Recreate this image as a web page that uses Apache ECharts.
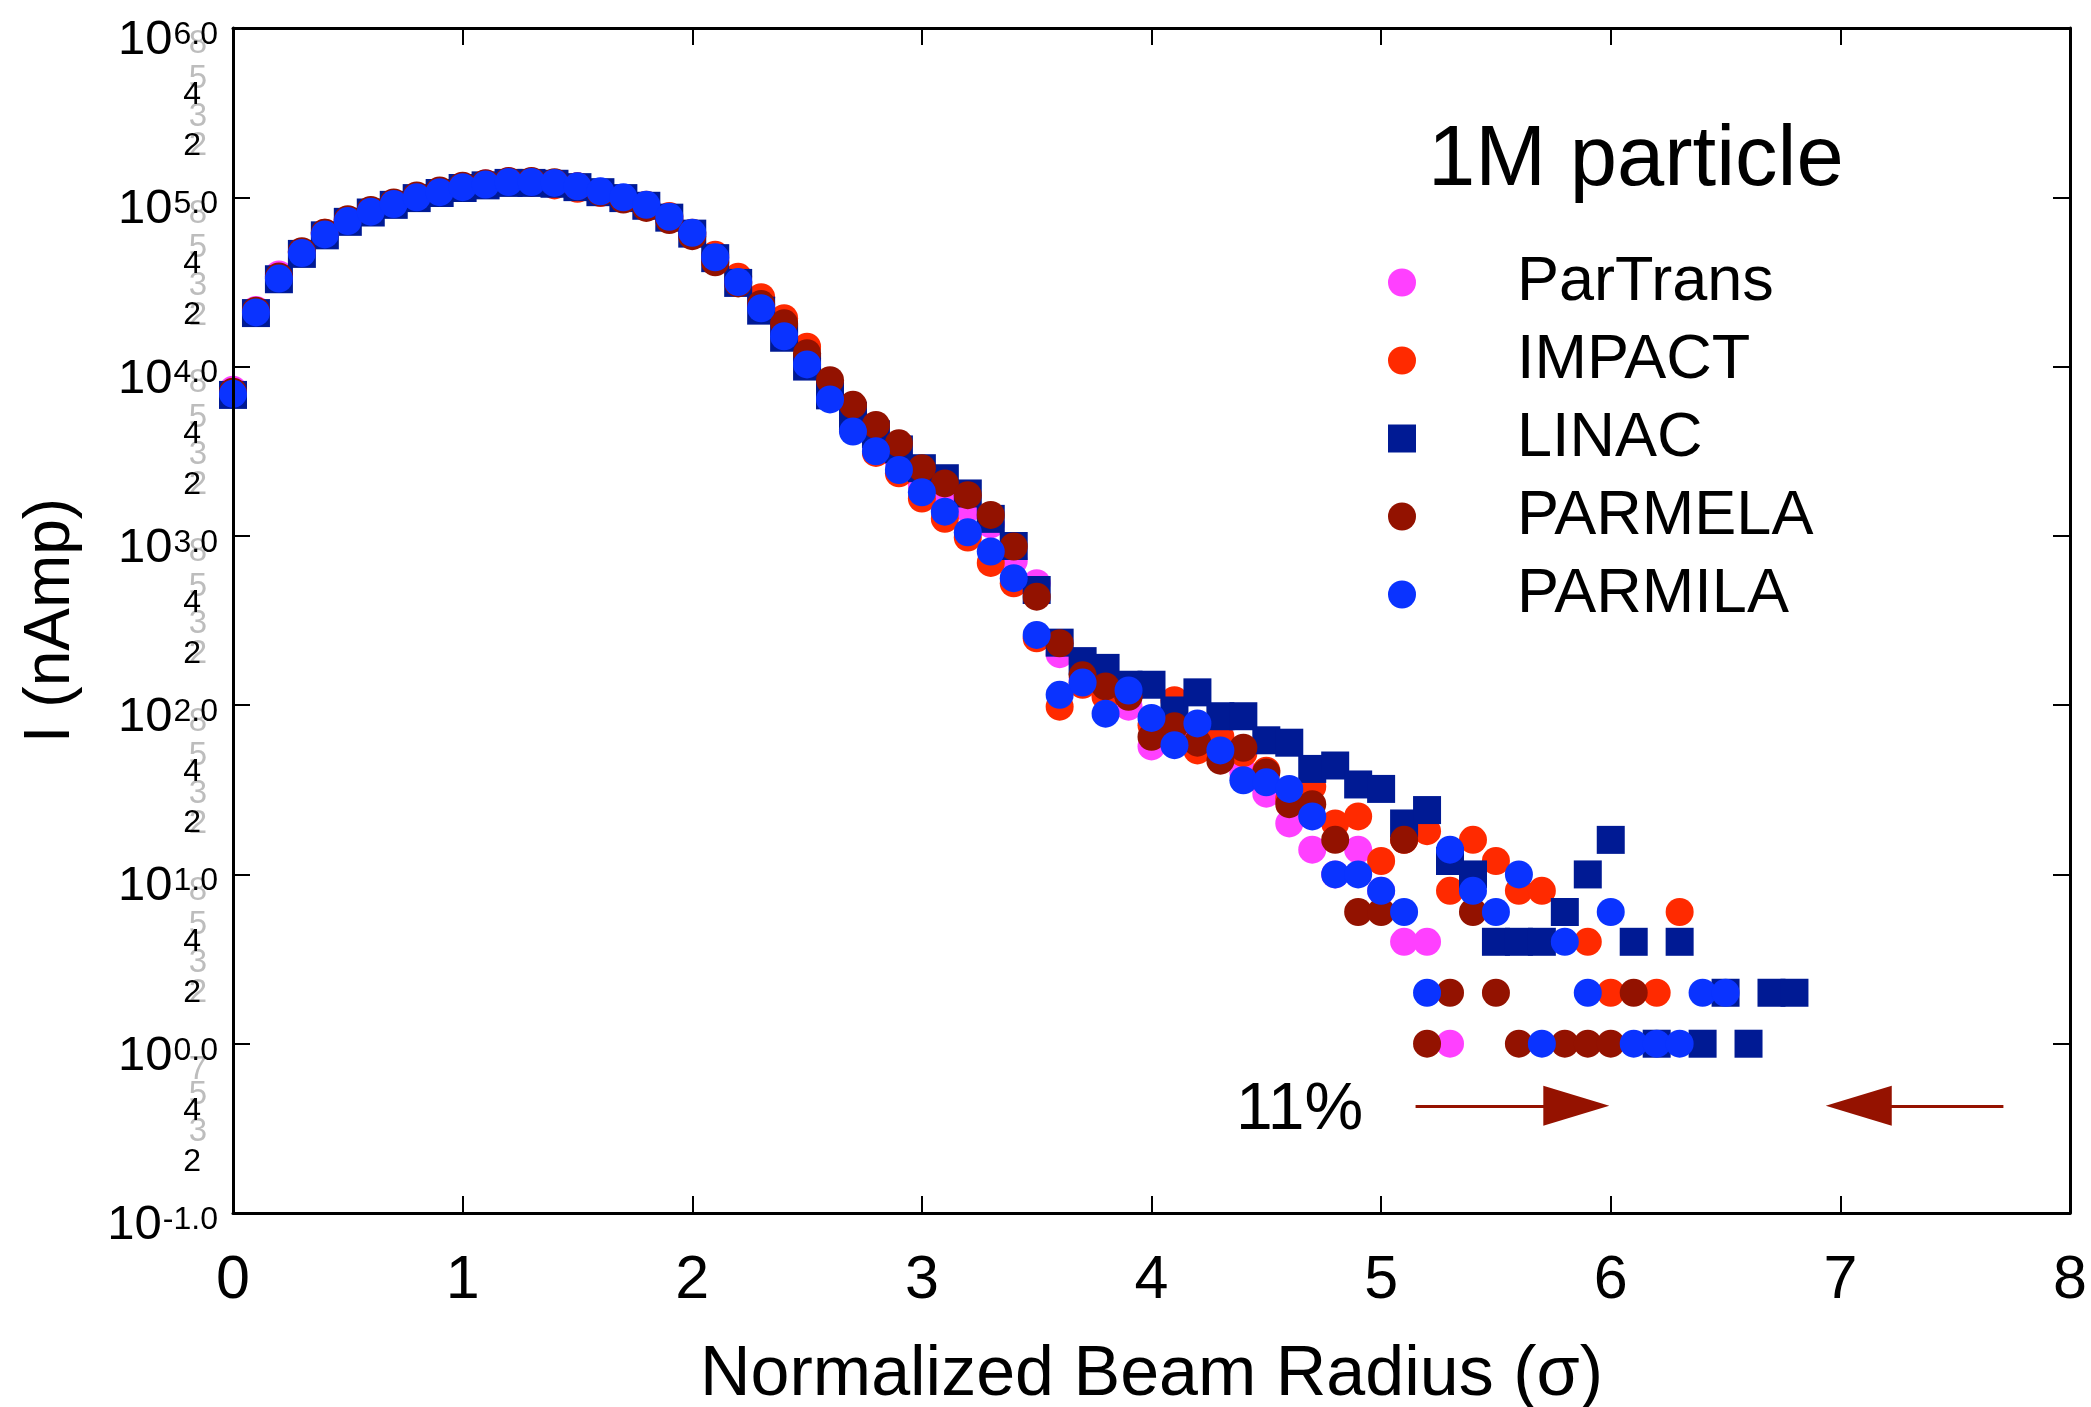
<!DOCTYPE html>
<html><head><meta charset="utf-8">
<script src="https://cdn.jsdelivr.net/npm/echarts@6/dist/echarts.min.js"></script>
<style>html,body{margin:0;padding:0;background:#fff}#c{width:2091px;height:1407px}</style>
</head><body><div id="c"></div>
<script>
const radius = [0.0,0.1,0.2,0.3,0.4,0.5,0.6,0.7,0.8,0.9,1.0,1.1,1.2,1.3,1.4,1.5,1.6,1.7,1.8,1.9,2.0,2.1,2.2,2.3,2.4,2.5,2.6,2.7,2.8,2.9,3.0,3.1,3.2,3.3,3.4,3.5,3.6,3.7,3.8,3.9,4.0,4.1,4.2,4.3,4.4,4.5,4.6,4.7,4.8,4.9,5.0,5.1,5.2,5.3,5.4,5.5,5.6,5.7,5.8,5.9,6.0,6.1,6.2,6.3,6.4,6.5,6.6,6.7,6.8];

const parTrans = [7300,21600,35000,47500,61000,73000,83000,92500,101500,109000,116500,120500,124500,124000,121500,116000,108000,99000,88500,75000,60500,43500,31500,22800,16000,11200,7080,4790,3550,2750,2000,1620,1450,1170,710,525,200,141,115,98,57,69,63,50,40,30,20,14,10,14,8,4,4,1,null,null,null,null,null,null,null,null,null,null,null,null,null,null,null];

const impact = [7000,21100,33500,47300,61700,73300,83200,92300,101200,108400,115300,119700,123000,121600,117500,112200,105900,98900,90200,77600,61700,45700,33900,25700,19300,13100,7940,4270,3090,2340,1660,1260,977,692,525,248,98,132,112,115,76,107,54,65,52,41,28,33,20,22,12,16,18,8,16,12,8,8,null,4,2,null,2,6,null,null,null,null,null];

const linac = [6800,20700,32800,46300,59600,71600,81300,90200,98900,106000,113500,117600,121600,121600,120200,114800,107200,98900,89100,75800,61000,43700,31200,21400,14800,10000,6760,5130,3980,3240,2510,2190,1780,1260,871,479,234,182,166,132,132,93,119,86,86,62,60,42,44,34,32,20,24,12,10,4,4,4,6,10,16,4,1,4,1,2,1,2,2];

const parmela = [7100,21400,34000,48000,61800,74100,84200,93300,102300,109600,117000,121000,125000,125000,122500,116000,107000,97000,86500,73300,58900,41300,31000,23400,18000,12000,8300,5940,4520,3520,2510,2040,1740,1330,865,437,232,150,129,112,65,75,60,47,56,40,26,26,16,6,6,16,1,2,6,2,1,null,1,1,1,2,null,null,null,null,null,null,null];

const parmila = [6900,20900,33100,46800,60300,72400,82200,91200,100000,107200,114800,118900,123000,123000,121600,116100,108400,100000,90200,76700,61700,44200,31600,22100,15100,10300,6400,4130,3160,2450,1810,1390,1050,807,562,260,115,136,89,122,84,58,78,54,36,35,32,22,10,10,8,6,2,14,8,6,10,1,4,2,6,1,1,1,2,2,null,null,null];

const seriesNames = ['ParTrans','IMPACT','LINAC','PARMELA','PARMILA'];
const seriesValues = [parTrans, impact, linac, parmela, parmila];
const seriesColors = ['#ff40ff','#ff2a00','#001a94','#931200','#0a33ff'];
const seriesSymbols = ['circle','circle','rect','circle','circle'];

const xTicks = [0,1,2,3,4,5,6,7,8];
const yMajorTicks = [0.1,1,10,100,1000,10000,100000,1000000];
const yMinorBlack = [0.2,0.4,2,4,20,40,200,400,2000,4000,20000,40000,200000,400000];
const yMinorGrey = [0.2,0.3,0.5,0.7,2,3,5,8,20,30,50,80,200,300,500,800,2000,3000,5000,8000,20000,30000,50000,80000,200000,300000,500000,800000];

// annotation arrows: [x start, x head centre], at y level
const arrowY = 0.43;
const arrowRight = [5.15, 5.85];
const arrowLeft = [7.71, 7.08];

const FONT = '"Liberation Sans", Arial, Helvetica, sans-serif';
const chart = echarts.init(document.getElementById('c'), null, {renderer: 'canvas'});

function lead(v){ const e = Math.floor(Math.log10(v) + 1e-9); return String(Math.round(v / Math.pow(10, e))); }

const series = seriesNames.map((name, i) => ({
  name, type: 'scatter', symbol: seriesSymbols[i], symbolSize: 28,
  itemStyle: {color: seriesColors[i], opacity: 1},
  emphasis: {disabled: true},
  data: radius.map((x, j) => seriesValues[i][j] == null ? null : [x, seriesValues[i][j]]).filter(d => d)
}));

series.push({
  name: 'arrows', type: 'scatter', data: [], silent: true,
  markLine: {
    silent: true, animation: false,
    symbol: ['none', 'triangle'], symbolSize: [40, 66],
    label: {show: false},
    lineStyle: {color: '#951200', width: 3, type: 'solid'},
    itemStyle: {color: '#951200'},
    emphasis: {disabled: true},
    data: [
      [{coord: [arrowRight[0], arrowY]}, {coord: [arrowRight[1], arrowY]}],
      [{coord: [arrowLeft[0], arrowY]}, {coord: [arrowLeft[1], arrowY]}]
    ]
  }
});

const logBase = {type: 'log', logBase: 10, min: 0.1, max: 1000000, splitLine: {show: false}, minorTick: {show: false}};

const option = {
  animation: false,
  backgroundColor: '#ffffff',
  textStyle: {fontFamily: FONT},
  title: {
    text: '1M particle', left: 1428, top: 119, padding: 0,
    textStyle: {fontSize: 85, fontWeight: 'normal', color: '#000', fontFamily: FONT}
  },
  legend: {
    orient: 'vertical', left: 1388, top: 251, padding: 0,
    itemWidth: 28, itemHeight: 28, itemGap: 15,
    data: seriesNames,
    selectedMode: false,
    textStyle: {fontSize: 63, color: '#000', fontFamily: FONT, padding: [0, 0, 0, 96]}
  },
  grid: {left: 233, right: 21, top: 28, bottom: 194, containLabel: false, outerBoundsMode: 'none'},
  xAxis: [
    {
      type: 'value', min: 0, max: 8, interval: 1, position: 'bottom',
      name: 'Normalized Beam Radius (σ)', nameLocation: 'middle', nameGap: 128,
      nameTextStyle: {fontSize: 70, color: '#000', fontFamily: FONT},
      axisLine: {show: true, onZero: false, lineStyle: {color: '#000', width: 3}},
      axisTick: {show: true, inside: true, length: 17, lineStyle: {color: '#000', width: 2}},
      axisLabel: {show: true, fontSize: 61, color: '#000', margin: 38, fontFamily: FONT},
      splitLine: {show: false}
    },
    {
      type: 'value', min: 0, max: 8, interval: 1, position: 'top',
      axisLine: {show: true, onZero: false, lineStyle: {color: '#000', width: 3}},
      axisTick: {show: true, inside: true, length: 17, lineStyle: {color: '#000', width: 2}},
      axisLabel: {show: false}, splitLine: {show: false}
    }
  ],
  yAxis: [
    Object.assign({}, logBase, {
      position: 'left', z: 3,
      name: 'I (nAmp)', nameLocation: 'middle', nameGap: 150, nameRotate: 90,
      nameTextStyle: {fontSize: 64, color: '#000', fontFamily: FONT},
      axisLine: {show: true, onZero: false, lineStyle: {color: '#000', width: 3}},
      axisTick: {show: true, inside: true, length: 17, lineStyle: {color: '#000', width: 2}, customValues: yMajorTicks},
      axisLabel: {
        show: true, margin: 15, color: '#000', fontSize: 48, fontFamily: FONT, padding: [28, 0, 0, 0],
        customValues: yMajorTicks,
        formatter: v => '{base|10}{sup|' + Math.round(Math.log10(v)).toFixed(1) + '}',
        rich: {
          base: {fontSize: 49, lineHeight: 46, padding: [4, 1, 0, 0], verticalAlign: 'bottom', color: '#000', fontFamily: FONT},
          sup: {fontSize: 32, lineHeight: 30, verticalAlign: 'top', color: '#000', fontFamily: FONT}
        }
      }
    }),
    Object.assign({}, logBase, {
      position: 'left', z: 2,
      axisLine: {show: false}, axisTick: {show: false},
      axisLabel: {show: true, margin: 32, fontSize: 32, color: '#000', fontFamily: FONT, padding: [18, 0, 0, 0],
        customValues: yMinorBlack, formatter: lead}
    }),
    Object.assign({}, logBase, {
      position: 'left', z: 1,
      axisLine: {show: false}, axisTick: {show: false},
      axisLabel: {show: true, margin: 26, fontSize: 33, color: '#bdbdbd', fontFamily: FONT, padding: [14, 0, 0, 0],
        customValues: yMinorGrey, formatter: lead}
    }),
    Object.assign({}, logBase, {
      position: 'right', z: 3,
      axisLine: {show: true, onZero: false, lineStyle: {color: '#000', width: 3}},
      axisTick: {show: true, inside: true, length: 17, lineStyle: {color: '#000', width: 2}, customValues: yMajorTicks},
      axisLabel: {show: false}
    })
  ],
  graphic: [{
    type: 'text', left: 1236, top: 1078,
    style: {text: '11%', fontSize: 66, fill: '#000', fontFamily: FONT}
  }],
  series
};
chart.setOption(option);
</script>
</body></html>
